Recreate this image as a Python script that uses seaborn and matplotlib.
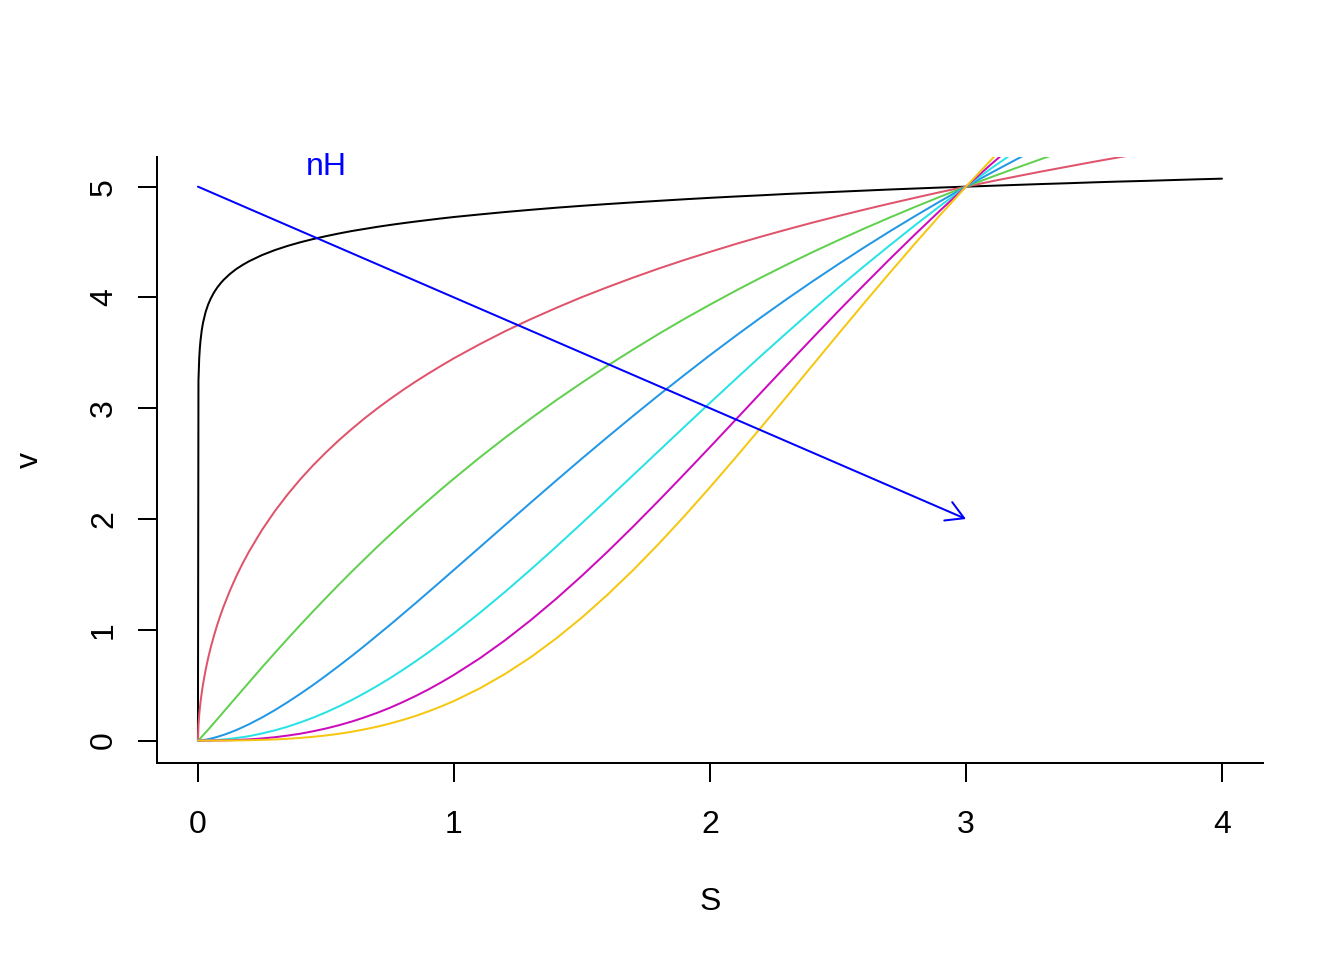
import numpy as np
import pandas as pd
import matplotlib
matplotlib.use('Agg')
import matplotlib.pyplot as plt
import seaborn as sns

# substrate concentration grid (same for every curve)
S = [0, 0.002, 0.005, 0.0075, 0.01, 0.015, 0.02, 0.03,
     0.04, 0.05, 0.0625, 0.075, 0.0875, 0.1, 0.125, 0.15,
     0.175, 0.2, 0.25, 0.3, 0.35, 0.4, 0.45, 0.5,
     0.55, 0.6, 0.65, 0.7, 0.75, 0.8, 0.85, 0.9,
     0.95, 1.0, 1.1, 1.2, 1.3, 1.4, 1.5, 1.6,
     1.7, 1.8, 1.9, 2.0, 2.1, 2.2, 2.3, 2.4,
     2.5, 2.6, 2.7, 2.8, 2.9, 3.0, 3.1, 3.2,
     3.3, 3.4, 3.5, 3.6, 3.7, 3.8, 3.9, 4.0]

# rate v along each curve (nH increasing from black to yellow)
v_black = [0.000, 3.249, 3.453, 3.545, 3.611, 3.706, 3.773, 3.869,
           3.937, 3.990, 4.044, 4.088, 4.125, 4.158, 4.212, 4.257,
           4.294, 4.327, 4.382, 4.427, 4.465, 4.498, 4.527, 4.553,
           4.577, 4.599, 4.618, 4.637, 4.654, 4.670, 4.685, 4.699,
           4.713, 4.726, 4.749, 4.771, 4.791, 4.810, 4.827, 4.843,
           4.858, 4.872, 4.886, 4.899, 4.911, 4.922, 4.934, 4.944,
           4.954, 4.964, 4.974, 4.983, 4.992, 5.000, 5.008, 5.016,
           5.024, 5.031, 5.039, 5.046, 5.052, 5.059, 5.066, 5.072]
v_red = [0.000, 0.138, 0.234, 0.295, 0.346, 0.435, 0.510, 0.638,
         0.746, 0.841, 0.946, 1.042, 1.129, 1.209, 1.354, 1.484,
         1.601, 1.708, 1.901, 2.070, 2.221, 2.359, 2.485, 2.601,
         2.710, 2.811, 2.907, 2.997, 3.082, 3.163, 3.240, 3.313,
         3.383, 3.451, 3.577, 3.695, 3.804, 3.906, 4.003, 4.093,
         4.179, 4.261, 4.338, 4.411, 4.482, 4.549, 4.613, 4.675,
         4.734, 4.791, 4.846, 4.899, 4.951, 5.000, 5.048, 5.094,
         5.139, 5.182, 5.225, 5.266, 5.305, 5.344, 5.382, 5.419]
v_green = [0.000, 0.004, 0.011, 0.017, 0.023, 0.035, 0.048, 0.073,
           0.099, 0.125, 0.158, 0.192, 0.225, 0.259, 0.326, 0.393,
           0.460, 0.527, 0.660, 0.790, 0.918, 1.044, 1.167, 1.288,
           1.407, 1.523, 1.636, 1.748, 1.856, 1.963, 2.067, 2.168,
           2.268, 2.365, 2.554, 2.734, 2.907, 3.073, 3.231, 3.384,
           3.530, 3.671, 3.806, 3.935, 4.060, 4.180, 4.296, 4.408,
           4.515, 4.619, 4.719, 4.816, 4.910, 5.000, 5.087, 5.172,
           5.254, 5.333, 5.410, 5.485, 5.557, 5.627, 5.695, 5.761]
v_blue = [0.000, 0.000, 0.000, 0.001, 0.001, 0.003, 0.004, 0.008,
          0.012, 0.018, 0.025, 0.033, 0.042, 0.051, 0.072, 0.095,
          0.121, 0.148, 0.208, 0.274, 0.346, 0.422, 0.502, 0.586,
          0.673, 0.762, 0.854, 0.949, 1.044, 1.142, 1.240, 1.340,
          1.440, 1.541, 1.743, 1.946, 2.148, 2.348, 2.546, 2.740,
          2.931, 3.118, 3.300, 3.479, 3.652, 3.821, 3.985, 4.144,
          4.298, 4.448, 4.593, 4.733, 4.869, 5.000, 5.127, 5.250,
          5.369, 5.483, 5.595, 5.702, 5.806, 5.906, 6.003, 6.097]
v_cyan = [0.000, 0.000, 0.000, 0.000, 0.000, 0.000, 0.000, 0.001,
          0.002, 0.002, 0.004, 0.006, 0.008, 0.010, 0.016, 0.023,
          0.031, 0.040, 0.064, 0.092, 0.125, 0.164, 0.207, 0.255,
          0.308, 0.365, 0.427, 0.493, 0.563, 0.637, 0.715, 0.796,
          0.880, 0.968, 1.151, 1.343, 1.544, 1.751, 1.963, 2.179,
          2.396, 2.614, 2.832, 3.048, 3.262, 3.474, 3.681, 3.885,
          4.084, 4.278, 4.466, 4.650, 4.828, 5.000, 5.167, 5.328,
          5.483, 5.633, 5.777, 5.916, 6.050, 6.179, 6.303, 6.422]
v_magenta = [0.000, 0.000, 0.000, 0.000, 0.000, 0.000, 0.000, 0.000,
             0.000, 0.000, 0.001, 0.001, 0.001, 0.002, 0.003, 0.005,
             0.008, 0.011, 0.019, 0.030, 0.045, 0.062, 0.084, 0.109,
             0.138, 0.171, 0.209, 0.250, 0.296, 0.347, 0.402, 0.461,
             0.525, 0.593, 0.741, 0.906, 1.087, 1.281, 1.488, 1.705,
             1.932, 2.166, 2.406, 2.649, 2.895, 3.142, 3.388, 3.632,
             3.873, 4.109, 4.341, 4.567, 4.787, 5.000, 5.206, 5.405,
             5.597, 5.781, 5.958, 6.127, 6.290, 6.445, 6.593, 6.735]
v_yellow = [0.000, 0.000, 0.000, 0.000, 0.000, 0.000, 0.000, 0.000,
            0.000, 0.000, 0.000, 0.000, 0.000, 0.000, 0.001, 0.001,
            0.002, 0.003, 0.006, 0.010, 0.016, 0.024, 0.034, 0.046,
            0.061, 0.079, 0.101, 0.125, 0.154, 0.186, 0.222, 0.263,
            0.308, 0.357, 0.470, 0.602, 0.752, 0.923, 1.111, 1.317,
            1.539, 1.776, 2.026, 2.286, 2.554, 2.828, 3.106, 3.386,
            3.666, 3.943, 4.216, 4.484, 4.746, 5.000, 5.246, 5.483,
            5.710, 5.928, 6.136, 6.334, 6.523, 6.702, 6.872, 7.033]

curves = [v_black, v_red, v_green, v_blue, v_cyan, v_magenta, v_yellow]
# R 4.x default palette
colors = ['#000000', '#DF536B', '#61D04F', '#2297E6', '#28E2E5', '#CD0BBC', '#F5C710']

df = pd.concat([pd.DataFrame({'S': S, 'v': v, 'curve': i}) for i, v in enumerate(curves)],
               ignore_index=True)

sns.set_style('ticks')
plt.rcParams['font.family'] = ['Liberation Sans', 'DejaVu Sans']
plt.rcParams['font.size'] = 12

fig = plt.figure(figsize=(7, 5), dpi=192)
ax = fig.add_axes([0.1168, 0.2052, 0.8229, 0.6313])

sns.lineplot(data=df, x='S', y='v', hue='curve', palette=colors, legend=False,
             estimator=None, sort=False, linewidth=0.75, ax=ax)

# arrow showing increasing nH
ax.annotate('', xy=(3, 2), xytext=(0, 5),
            arrowprops=dict(arrowstyle='->,head_length=6.5,head_width=3.75', color='blue',
                            lw=0.75, mutation_scale=1, shrinkA=0, shrinkB=0))
ax.text(0.5, 5.18, 'nH', color='blue', ha='center', va='center', fontsize=12)

ax.set_xlim(-0.16, 4.16)
ax.set_ylim(-0.2026, 5.268)
ax.set_xticks([0, 1, 2, 3, 4])
ax.set_yticks([0, 1, 2, 3, 4, 5])
ax.set_xlabel('S', fontsize=12, labelpad=17.5, color='black')
ax.set_ylabel('v', fontsize=12, labelpad=16.5, color='black')

for side in ['top', 'right']:
    ax.spines[side].set_visible(False)
for side in ['left', 'bottom']:
    ax.spines[side].set_linewidth(0.75)
    ax.spines[side].set_color('black')

ax.tick_params(axis='both', length=7.2, width=0.75, color='black', labelsize=12, labelcolor='black')
ax.tick_params(axis='x', pad=10.5)
ax.tick_params(axis='y', pad=7)
for lbl in ax.get_yticklabels():
    lbl.set_rotation(90)
    lbl.set_va('center')

fig.savefig('out.png', dpi=192)
